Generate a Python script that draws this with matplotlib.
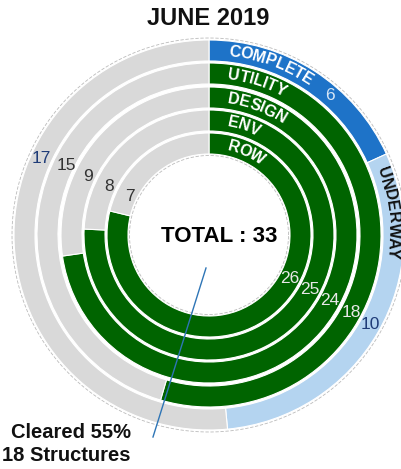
import numpy as np
import matplotlib
matplotlib.use("Agg")
import matplotlib.pyplot as plt
from matplotlib.font_manager import FontProperties
from matplotlib.textpath import TextToPath

# data
rings = ["ROW", "ENV", "DESIGN", "UTILITY"]
done = [26, 25, 24, 18]
left = [7, 8, 9, 15]
status = ["COMPLETE", "UNDERWAY"]
status_values = [6, 10]
status_left = 17
total = 33
cleared_pct = 55
cleared_n = 18

FAM = ["Liberation Sans Narrow", "Liberation Sans", "DejaVu Sans"]
plt.rcParams["font.family"] = FAM

GREEN = "#006400"
GREY = "#D9D9D9"
BLUE = "#1E73C8"
LBLUE = "#B4D4F0"
NAVY = "#1F3C78"

DPI = 100
W, H = 401, 469
cx, cy = 209, H - 235
radii = [102, 125, 148, 172, 195]
width = 21

fig = plt.figure(figsize=(W / DPI, H / DPI), dpi=DPI)
ax = fig.add_axes([0, 0, 1, 1])

wp = dict(width=width, edgecolor="white", linewidth=0.8)
for i, name in enumerate(rings):
    ax.pie([done[i], left[i]], radius=radii[i], center=(cx, cy), startangle=90,
           counterclock=False, colors=[GREEN, GREY], wedgeprops=wp)
ax.pie(status_values + [status_left], radius=radii[4], center=(cx, cy), startangle=90,
       counterclock=False, colors=[BLUE, LBLUE, GREY], wedgeprops=wp)

# faint dashed outlines
th = np.linspace(0, 2 * np.pi, 400)
for r in (radii[4] + 2, radii[0] - width - 1.5):
    ax.plot(cx + r * np.cos(th), cy + r * np.sin(th), color="#BBBBBB", lw=0.6, ls=(0, (4, 2)))

ttp = TextToPath()


def arc_text(s, r, start, size=11.5, color="white"):
    fp = FontProperties(family=FAM, weight="bold", size=size)
    ws = [0.0] + [ttp.get_text_width_height_descent(s[:k], fp, ismath=False)[0] * DPI / 72
                  for k in range(1, len(s) + 1)]
    for k, ch in enumerate(s):
        mid = (ws[k] + ws[k + 1]) / 2
        a = start - np.degrees(mid / r)
        ax.text(cx + r * np.cos(np.radians(a)), cy + r * np.sin(np.radians(a)), ch,
                rotation=a - 90, rotation_mode="anchor", ha="center", va="center",
                fontproperties=fp, color=color)


mids = [r - width / 2 for r in radii]
for i, name in enumerate(rings):
    arc_text(name, mids[i], 90 - np.degrees(19 / mids[i]))
arc_text(status[0], mids[4], 90 - np.degrees(20 / mids[4]))
seg2 = 90 - 360 * status_values[0] / total
arc_text(status[1], mids[4], seg2 - np.degrees(10 / mids[4]), color="#111111")


def num(v, r, a, color):
    ax.text(cx + r * np.cos(np.radians(a)), cy + r * np.sin(np.radians(a)), str(v),
            ha="center", va="center", fontsize=12.5, color=color)


for i in range(len(rings)):
    num(done[i], mids[i], -28.5, "#E8E8E8")
    num(left[i], mids[i] - 3, 154, "#333333")
num(status_values[0], mids[4], 49, "#D6E6F6")
num(status_values[1], mids[4], -29, NAVY)
num(status_left, mids[4], 155.5, NAVY)

ax.text(219, cy - 1, f"TOTAL : {total}", ha="center", va="center",
        fontsize=16, fontweight="bold", color="black")
ax.text(208, H - 18, "JUNE 2019", ha="center", va="center",
        fontsize=17, fontweight="bold", color="#111111")
ax.plot([206, 153], [H - 268, H - 437], color="#2E75B6", lw=1)
ax.text(131, H - 444, f"Cleared {cleared_pct}%\n{cleared_n} Structures", ha="right",
        va="center", ma="right", fontsize=14.5, fontweight="bold", color="#111111",
        linespacing=1.25)

ax.set_xlim(0, W)
ax.set_ylim(0, H)
ax.set_aspect("auto")
ax.axis("off")
fig.savefig("out.png", dpi=DPI)
